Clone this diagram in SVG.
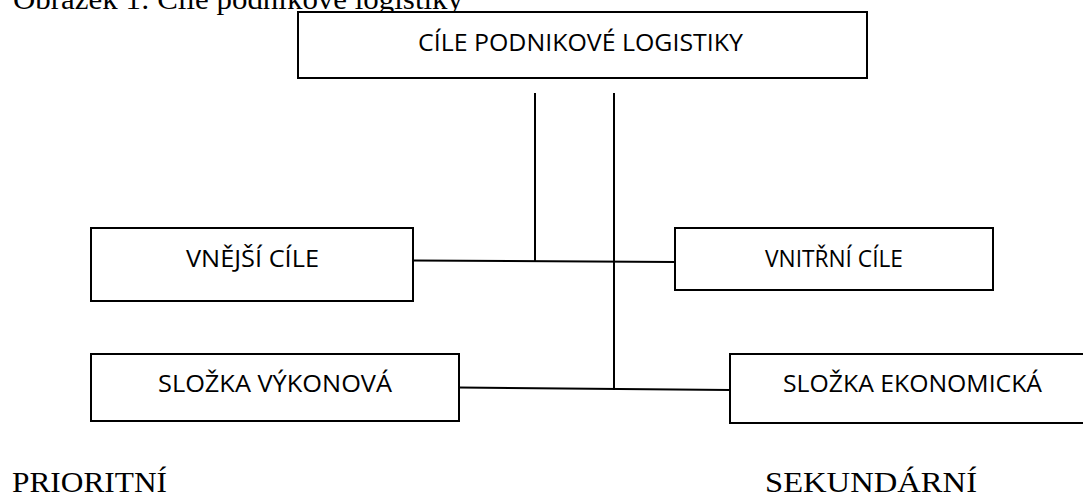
<svg xmlns="http://www.w3.org/2000/svg" width="1083" height="495" viewBox="0 0 1083 495">
<style>
.box{fill:#fff;stroke:#000;stroke-width:2}
.lbl{font-family:"Open Sans","Noto Sans","Liberation Sans",sans-serif;font-size:23px;fill:#000}
.ser{font-family:"Liberation Serif","Times New Roman",serif;font-size:30px;fill:#000}
.con{stroke:#000;stroke-width:2;fill:none}
</style>
<rect width="1083" height="495" fill="#fff"/>
<text class="ser" x="13" y="9" textLength="450" lengthAdjust="spacingAndGlyphs">Obrázek 1: Cíle podnikové logistiky</text>
<g id="connectors">
<line class="con" x1="535" y1="93" x2="535" y2="261"/>
<line class="con" x1="614" y1="93" x2="614" y2="390"/>
<line class="con" x1="413" y1="260.5" x2="675" y2="262"/>
<line class="con" x1="459" y1="387.5" x2="730" y2="390"/>
</g>
<g id="top">
<rect class="box" x="298" y="12" width="569" height="66"/>
<text class="lbl" x="418" y="51" textLength="325" lengthAdjust="spacingAndGlyphs">CÍLE PODNIKOVÉ LOGISTIKY</text>
</g>
<g id="vnejsi">
<rect class="box" x="91" y="228" width="322" height="73"/>
<text class="lbl" x="186" y="266.5" textLength="133" lengthAdjust="spacingAndGlyphs">VNĚJŠÍ CÍLE</text>
</g>
<g id="vnitrni">
<rect class="box" x="675" y="228" width="318" height="62"/>
<text class="lbl" x="765" y="266.5" textLength="138" lengthAdjust="spacingAndGlyphs">VNITŘNÍ CÍLE</text>
</g>
<g id="vykonova">
<rect class="box" x="91" y="354" width="368" height="67"/>
<text class="lbl" x="158" y="392" textLength="234" lengthAdjust="spacingAndGlyphs">SLOŽKA VÝKONOVÁ</text>
</g>
<g id="ekonomicka">
<rect class="box" x="730" y="354" width="370" height="69"/>
<text class="lbl" x="783" y="392" textLength="259" lengthAdjust="spacingAndGlyphs">SLOŽKA EKONOMICKÁ</text>
</g>
<text class="ser" x="12" y="491.5" textLength="155" lengthAdjust="spacingAndGlyphs">PRIORITNÍ</text>
<text class="ser" x="765" y="491.5" textLength="212" lengthAdjust="spacingAndGlyphs">SEKUNDÁRNÍ</text>
</svg>
